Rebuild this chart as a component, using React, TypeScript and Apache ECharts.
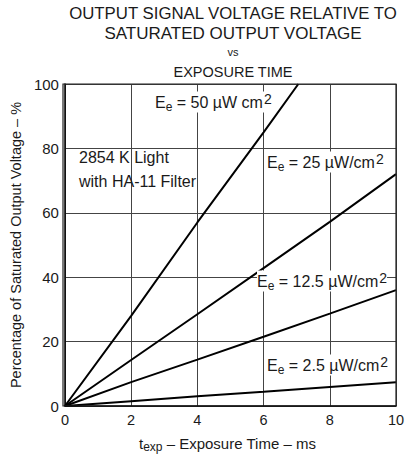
import React, { useEffect, useRef } from "react";
import * as echarts from "echarts";

const xTicks = [0, 2, 4, 6, 8, 10];
const yTicks = [0, 20, 40, 60, 80, 100];

const time50 = [0, 2, 4, 6, 7.05];
const val50 = [0, 28, 57, 85, 100];

const time25 = [0, 2, 4, 6, 8, 10];
const val25 = [0, 14.3, 28.5, 42.8, 57.2, 72];

const time125 = [0, 2, 4, 6, 8, 10];
const val125 = [0, 7.4, 14.4, 21.5, 28.7, 36];

const time25b = [0, 2, 4, 6, 8, 10];
const val25b = [0, 1.5, 3, 4.4, 5.9, 7.4];

const titleLines = [
  "OUTPUT SIGNAL VOLTAGE RELATIVE TO",
  "SATURATED OUTPUT VOLTAGE",
  "vs",
  "EXPOSURE TIME",
];

const FONT = "Liberation Sans";
const INK = "#1a1a1a";

function pairs(xs: number[], ys: number[]) {
  return xs.map((x, i) => [x, ys[i]]);
}

function eeLabel(value: string, sep: string) {
  return `E{sub|e} = ${value} µW${sep}cm{sup|2}`;
}

const rich = {
  sub: { fontSize: 12, fontFamily: FONT, fill: INK, padding: [9, 0, 0, 0] },
  sup: { fontSize: 14, fontFamily: FONT, fill: INK, padding: [0, 0, 7, 1] },
};

export default function App() {
  const ref = useRef<HTMLDivElement>(null);
  useEffect(() => {
    if (!ref.current) return;
    const chart = echarts.init(ref.current, undefined, { renderer: "svg" });
    const lineStyle = { color: "#000", width: 2 };
    const mkSeries = (name: string, data: number[][]) => ({
      name,
      type: "line",
      data,
      showSymbol: false,
      symbol: "none",
      lineStyle,
      clip: true,
    });
    const textEl = (x: number, y: number, text: string, extra: any = {}) => ({
      type: "text",
      x,
      y,
      z: 20,
      style: {
        text,
        fontSize: 16,
        fontFamily: FONT,
        fill: INK,
        rich,
        verticalAlign: "middle",
        ...extra,
      },
    });
    chart.setOption({
      animation: false,
      backgroundColor: "#fff",
      grid: { left: 63, right: 13, top: 84, bottom: 54 },
      xAxis: {
        type: "value",
        min: 0,
        max: 10,
        interval: 2,
        axisLine: { show: true, lineStyle: { color: "#000", width: 1.5 } },
        axisTick: { show: false },
        axisLabel: {
          fontSize: 14.5,
          fontFamily: FONT,
          color: INK,
          margin: 6,
          formatter: (v: number) => (xTicks.includes(v) ? String(v) : ""),
        },
        splitLine: { show: true, lineStyle: { color: "#444", width: 1 } },
      },
      yAxis: {
        type: "value",
        min: 0,
        max: 100,
        interval: 20,
        name: "Percentage of Saturated Output Voltage – %",
        nameLocation: "middle",
        nameGap: 38,
        nameTextStyle: { fontSize: 14.5, fontFamily: FONT, color: INK },
        axisLine: { show: true, lineStyle: { color: "#000", width: 1.5 } },
        axisTick: { show: false },
        axisLabel: {
          fontSize: 15,
          fontFamily: FONT,
          color: INK,
          margin: 6,
          formatter: (v: number) => (yTicks.includes(v) ? String(v) : ""),
        },
        splitLine: { show: true, lineStyle: { color: "#444", width: 1 } },
      },
      series: [
        mkSeries("50", pairs(time50, val50)),
        mkSeries("25", pairs(time25, val25)),
        mkSeries("12.5", pairs(time125, val125)),
        mkSeries("2.5", pairs(time25b, val25b)),
      ],
      graphic: [
        {
          type: "rect",
          shape: { x: 63, y: 84, width: 333, height: 322 },
          style: { fill: "none", stroke: "#222", lineWidth: 1.2 },
          silent: true,
          z: 10,
        },
        ...titleLines.map((t, i) => ({
          type: "text",
          x: 233,
          y: [13, 33, 52, 72][i],
          style: {
            text: t,
            fontSize: [16.8, 17, 11, 14.5][i],
            fontFamily: FONT,
            fill: INK,
            align: "center",
            verticalAlign: "middle",
          },
        })),
        textEl(155, 102, eeLabel("50", " "), { backgroundColor: "#fff" }),
        textEl(79, 157, "2854 K Light"),
        textEl(79, 181, "with HA-11 Filter"),
        textEl(267, 162, eeLabel("25", "/"), { backgroundColor: "#fff" }),
        textEl(257, 281, eeLabel("12.5", "/"), { backgroundColor: "#fff" }),
        textEl(267, 365, eeLabel("2.5", "/"), { backgroundColor: "#fff" }),
        {
          type: "text",
          x: 139,
          y: 443,
          style: {
            text: "t{sub|exp} – Exposure Time – ms",
            fontSize: 15,
            fontFamily: FONT,
            fill: INK,
            verticalAlign: "middle",
            rich: {
              sub: { fontSize: 12, fontFamily: FONT, fill: INK, padding: [7, 0, 0, 0] },
            },
          },
        },
      ],
    });
    return () => chart.dispose();
  }, []);
  return (
    <div
      ref={ref}
      style={{ position: "absolute", left: 0, top: 0, width: 409, height: 460 }}
    />
  );
}
